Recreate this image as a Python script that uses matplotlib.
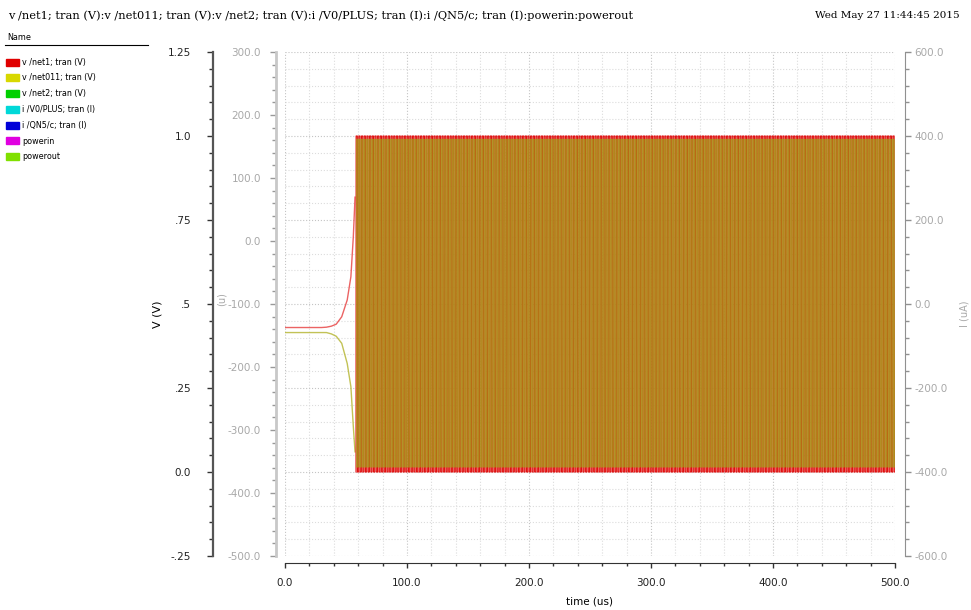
import numpy as np
import matplotlib.pyplot as plt
from matplotlib.patches import Rectangle
from matplotlib.ticker import FixedLocator, MultipleLocator

title_txt = ('v /net1; tran (V):v /net011; tran (V):v /net2; tran (V):'
             'i /V0/PLUS; tran (I):i /QN5/c; tran (I):powerin:powerout')
date_txt = 'Wed May 27 11:44:45 2015'

names = ['v /net1; tran (V)', 'v /net011; tran (V)', 'v /net2; tran (V)',
         'i /V0/PLUS; tran (I)', 'i /QN5/c; tran (I)', 'powerin', 'powerout']
colors = ['#e00000', '#d8d800', '#00d000', '#00d8d8', '#0000d8', '#e000e0', '#80e000']

# startup (time in us, volts)
t_start = [0, 10, 20, 30, 34, 38, 42, 46.5, 51, 54, 56, 57.4]
net1_start = [0.43, 0.43, 0.43, 0.43, 0.431, 0.434, 0.44, 0.462, 0.512, 0.581, 0.70, 0.818]
net011_start = [0.415, 0.415, 0.415, 0.415, 0.415, 0.411, 0.404, 0.383, 0.323, 0.254, 0.135, 0.06]

# oscillation after startup: one cycle, repeated
osc_t0 = 58.2
osc_t1 = 500.0
osc_period = 2.2
cycle_phase = [0.0, 0.04, 0.5, 0.54]
net1_cycle = [0.0, 1.0, 1.0, 0.0]
net011_cycle = [0.99, 0.015, 0.015, 0.99]

v_ticks = [-0.25, 0.0, 0.25, 0.5, 0.75, 1.0, 1.25]
v_labels = ['-.25', '0.0', '.25', '.5', '.75', '1.0', '1.25']
u_ticks = [-500, -400, -300, -200, -100, 0, 100, 200, 300]
i_ticks = [-600, -400, -200, 0, 200, 400, 600]
t_ticks = [0, 100, 200, 300, 400, 500]

ncyc = int(np.ceil((osc_t1 - osc_t0) / osc_period)) + 1
t_osc, n1_osc, n2_osc = [], [], []
for k in range(ncyc):
    for ph, a, b in zip(cycle_phase, net1_cycle, net011_cycle):
        t_osc.append(osc_t0 + (k + ph) * osc_period)
        n1_osc.append(a)
        n2_osc.append(b)
t_osc = np.array(t_osc)

fig = plt.figure(figsize=(9.71, 6.10), dpi=100)
W, H = 971, 610
px = 0.72  # points per pixel at dpi 100
ax = fig.add_axes([285 / W, 1 - 556 / H, 610 / W, 504 / H])

gray = '#a8a8a8'

# waveforms
ax.plot(t_start, net1_start, color='#e84848', lw=1.0, alpha=0.85, zorder=3)
ax.plot(t_start, net011_start, color='#b8b838', lw=1.0, alpha=0.85, zorder=3)
ax.plot(t_osc, n1_osc, color='#e01010', lw=0.8, zorder=3)
ax.plot(t_osc + osc_period * 0.25, n2_osc, color='#a0a818', lw=0.9, alpha=0.72, zorder=4)

ax.set_xlim(0, 500)
ax.set_ylim(-0.25, 1.25)
ax.xaxis.set_major_locator(FixedLocator(t_ticks))
ax.set_xticklabels(['%.1f' % v for v in t_ticks])
ax.xaxis.set_minor_locator(MultipleLocator(20))
ax.yaxis.set_major_locator(FixedLocator(v_ticks))
ax.set_yticklabels(v_labels)
ax.yaxis.set_minor_locator(MultipleLocator(0.05))

ax.grid(which='major', color='#c4c4c4', ls=':', lw=0.8)
ax.grid(which='minor', color='#dcdcdc', ls=':', lw=0.8)
ax.set_axisbelow(True)

for s in ['top', 'right']:
    ax.spines[s].set_visible(False)
ax.spines['left'].set_position(('outward', 72 * px))
ax.spines['left'].set_color('#555555')
ax.spines['left'].set_linewidth(1.6)
ax.spines['bottom'].set_position(('outward', 7 * px))
ax.spines['bottom'].set_color('#333333')
ax.tick_params(axis='y', which='major', length=6 * px, width=1, color='#333333',
               labelsize=7.5, pad=16 * px, labelcolor='#222222')
ax.tick_params(axis='y', which='minor', length=4 * px, width=1, color='#333333')
ax.tick_params(axis='x', which='major', length=5 * px, width=1, color='#333333',
               labelsize=7.5, pad=10 * px, labelcolor='#222222')
ax.tick_params(axis='x', which='minor', length=3 * px, width=1, color='#333333')
ax.set_ylabel('V (V)', fontsize=8)
ax.yaxis.set_label_coords(-0.20, 0.48)
ax.set_xlabel('time (us)', fontsize=7.5)
ax.xaxis.set_label_coords(0.5, -0.08)

# middle current axis
ax2 = ax.twinx()
ax2.set_ylim(-500, 300)
ax2.yaxis.tick_left()
ax2.yaxis.set_label_position('left')
for s in ['top', 'bottom', 'right']:
    ax2.spines[s].set_visible(False)
ax2.spines['left'].set_visible(True)
ax2.spines['left'].set_position(('outward', 9 * px))
ax2.spines['left'].set_color('#c8c8c8')
ax2.spines['left'].set_linewidth(2)
ax2.yaxis.set_major_locator(FixedLocator(u_ticks))
ax2.set_yticklabels(['%.1f' % v for v in u_ticks])
ax2.yaxis.set_minor_locator(MultipleLocator(20))
ax2.tick_params(axis='y', which='major', length=6.5 * px, width=1, color='#999999',
                labelsize=7.5, pad=8.5 * px, labelcolor=gray)
ax2.tick_params(axis='y', which='minor', length=4 * px, width=1, color='#999999')
ax2.set_ylabel('(u)', fontsize=7, color=gray)
ax2.yaxis.set_label_coords(-0.095, 0.51)

# right current axis
ax3 = ax.twinx()
ax3.set_ylim(-600, 600)
for s in ['top', 'bottom', 'left']:
    ax3.spines[s].set_visible(False)
ax3.spines['right'].set_position(('outward', 10 * px))
ax3.spines['right'].set_color('#909090')
ax3.yaxis.set_major_locator(FixedLocator(i_ticks))
ax3.set_yticklabels(['%.1f' % v for v in i_ticks])
ax3.yaxis.set_minor_locator(MultipleLocator(40))
ax3.tick_params(axis='y', which='major', length=6 * px, width=1, color='#909090',
                labelsize=7.5, pad=3 * px, labelcolor=gray)
ax3.tick_params(axis='y', which='minor', length=3.7 * px, width=1, color='#909090')
ax3.set_ylabel('I (uA)', fontsize=7, color=gray)
ax3.yaxis.set_label_coords(1.106, 0.48)

# header texts
fig.text(8 / W, 1 - 16 / H, title_txt, fontsize=8.2, family='DejaVu Serif',
         va='center', ha='left')
fig.text(960 / W, 1 - 16 / H, date_txt, fontsize=7.5, family='DejaVu Serif',
         va='center', ha='right')

# signal name list on the left
fig.text(7 / W, 1 - 37 / H, 'Name', fontsize=5.8, va='center', ha='left')
fig.add_artist(plt.Line2D([5 / W, 148 / W], [1 - 45 / H, 1 - 45 / H],
                          color='black', lw=0.8))
for i, (nm, c) in enumerate(zip(names, colors)):
    yc = 62 + i * 15.8
    fig.add_artist(Rectangle((6 / W, 1 - (yc + 3.5) / H), 13 / W, 7 / H,
                             color=c, transform=fig.transFigure))
    fig.text(22 / W, 1 - yc / H, nm, fontsize=5.8, va='center', ha='left')

fig.savefig('out.png', dpi=100)
